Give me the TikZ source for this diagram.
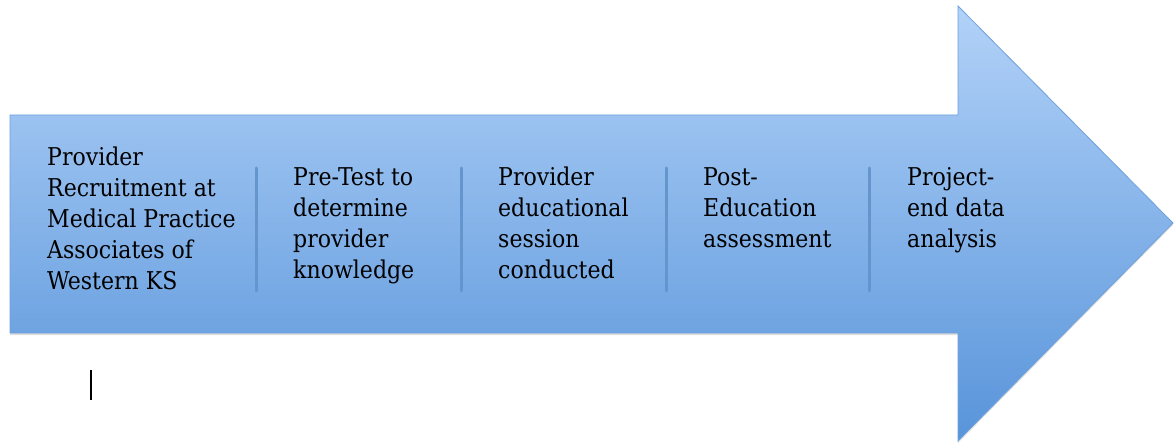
\documentclass[tikz,border=0pt]{standalone}
\usepackage{fontspec}
\setmainfont{DejaVu Serif Condensed}
\usetikzlibrary{shadows}

%Defining blue colours
\definecolor{ArrowTop}{RGB}{178,210,248}
\definecolor{ArrowBottom}{RGB}{88,148,218}
\definecolor{ArrowLine}{RGB}{110,160,220}
\definecolor{SepBlue}{RGB}{100,150,205}

\begin{document}
\begin{tikzpicture}[x=1pt,y=-1pt,
  stage/.style={anchor=north west,inner sep=0pt,align=left,text=black,
    font=\fontsize{24.5}{31}\selectfont},
  divider/.style={line width=3pt,line cap=round,SepBlue}]

%Page borders
\useasboundingbox (0,0) rectangle (1175,446);

%Big arrow
\path[top color=ArrowTop,bottom color=ArrowBottom,draw=ArrowLine,line width=0.8pt,
  drop shadow={opacity=0.25,shadow xshift=0pt,shadow yshift=-2pt}]
  (10,115) -- (958,115) -- (958,6) -- (1173,223) -- (958,441) -- (958,333) -- (10,333) -- cycle;

%Stages
\node[stage] (recruit)  at (47,147)  {Provider\\Recruitment at\\Medical Practice\\Associates of\\Western KS};
\node[stage] (pretest)  at (293,167) {Pre-Test to\\determine\\provider\\knowledge};
\node[stage] (session)  at (498,167) {Provider\\educational\\session\\conducted};
\node[stage] (posted)   at (703,167) {Post-\\Education\\assessment};
\node[stage] (analysis) at (907,167) {Project-\\end data\\analysis};

%Dividers between stages
\foreach \x in {256,461,666,869}
  \draw[divider] (\x,168) -- (\x,291);

%Cursor mark
\draw[line width=1.5pt] (91,370) -- (91,400);

\end{tikzpicture}
\end{document}
